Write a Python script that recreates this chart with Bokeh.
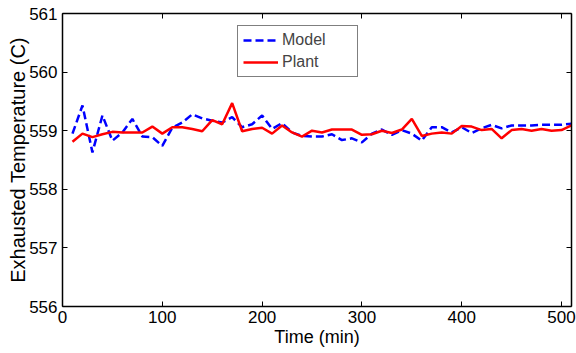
from bokeh.plotting import figure
from bokeh.models import LinearAxis, Range1d, FixedTicker, Legend, LegendItem, CustomJSTickFormatter
from bokeh.embed import file_html
from bokeh.resources import INLINE

time_min = [10, 20, 30, 40, 50, 60, 70, 80, 90, 100,
            110, 120, 130, 140, 150, 160, 170, 180, 190, 200,
            210, 220, 230, 240, 250, 260, 270, 280, 290, 300,
            310, 320, 330, 340, 350, 360, 370, 380, 390, 400,
            410, 420, 430, 440, 450, 460, 470, 480, 490, 500, 510]

model = [558.95, 559.43, 558.63, 559.26, 558.83, 558.97, 559.20, 558.90, 558.89, 558.74,
         559.05, 559.14, 559.28, 559.21, 559.17, 559.14, 559.23, 559.06, 559.11, 559.26,
         559.03, 559.13, 558.97, 558.91, 558.90, 558.90, 558.94, 558.84, 558.87, 558.80,
         558.95, 559.02, 558.93, 559.01, 558.95, 558.83, 559.06, 559.06, 558.97, 559.06,
         558.96, 559.04, 559.10, 559.04, 559.09, 559.09, 559.09, 559.10, 559.10, 559.10, 559.12]

plant = [558.81, 558.95, 558.89, 558.94, 558.98, 558.97, 558.97, 558.97, 559.07, 558.95,
         559.06, 559.06, 559.03, 558.99, 559.18, 559.11, 559.47, 558.99, 559.03, 559.05,
         558.95, 559.09, 558.97, 558.90, 559.00, 558.97, 559.02, 559.02, 559.02, 558.93,
         558.94, 559.00, 558.96, 559.02, 559.20, 558.91, 558.95, 558.97, 558.95, 559.08,
         559.07, 559.01, 559.03, 558.87, 559.01, 559.03, 559.00, 559.03, 559.00, 559.01, 559.09]

x_ticks = [0, 100, 200, 300, 400, 500]
y_ticks = [556, 557, 558, 559, 560, 561]

FONT = "Liberation Sans"

p = figure(width=576, height=353, output_backend="svg", toolbar_location=None,
           x_range=Range1d(0, 510), y_range=Range1d(556, 561),
           min_border_left=62, min_border_right=5, min_border_top=13, min_border_bottom=47)
p.outline_line_color = None
p.grid.visible = False
p.background_fill_color = "white"
p.border_fill_color = "white"

def style_axis(ax, labels=True):
    ax.axis_line_color = "black"
    ax.axis_line_width = 1.5
    ax.major_tick_in = 5
    ax.major_tick_out = 0
    ax.minor_tick_line_color = None
    ax.major_tick_line_color = "black"
    ax.major_tick_line_width = 1
    if labels:
        ax.major_label_text_font = FONT
        ax.major_label_text_font_size = "17px"
        ax.major_label_text_color = "black"
    else:
        ax.formatter = CustomJSTickFormatter(code="return ''")
        ax.major_label_text_font_size = "1px"
        ax.major_label_standoff = 0

p.xaxis.ticker = FixedTicker(ticks=x_ticks)
p.yaxis.ticker = FixedTicker(ticks=y_ticks)
style_axis(p.xaxis[0])
style_axis(p.yaxis[0])
p.xaxis.major_label_standoff = 4
p.yaxis.major_label_standoff = 5
p.xaxis.axis_label = "Time (min)"
p.yaxis.axis_label = "Exhausted Temperature (C)"
p.xaxis.axis_label_text_font = FONT
p.xaxis.axis_label_text_font_size = "18px"
p.xaxis.axis_label_text_font_style = "normal"
p.xaxis.axis_label_text_color = "black"
p.xaxis.axis_label_standoff = 1
p.yaxis.axis_label_text_font = FONT
p.yaxis.axis_label_text_font_size = "20px"
p.yaxis.axis_label_text_font_style = "normal"
p.yaxis.axis_label_text_color = "black"
p.yaxis.axis_label_standoff = -3

top = LinearAxis(ticker=FixedTicker(ticks=x_ticks))
right = LinearAxis(ticker=FixedTicker(ticks=y_ticks))
style_axis(top, labels=False)
style_axis(right, labels=False)
p.add_layout(top, "above")
p.add_layout(right, "right")

r_model = p.line(time_min, model, line_color="#0000ff", line_width=2.5, line_dash="8 4")
r_plant = p.line(time_min, plant, line_color="#ff0000", line_width=2.5)

legend = Legend(items=[LegendItem(label="Model", renderers=[r_model]),
                       LegendItem(label="Plant", renderers=[r_plant])],
                location=(175, 229))
legend.label_text_font = FONT
legend.label_text_font_size = "16px"
legend.glyph_width = 35
legend.glyph_height = 18
legend.label_height = 18
legend.label_width = 70
legend.label_standoff = 4
legend.spacing = 4
legend.padding = 5
legend.margin = 0
legend.border_line_color = "black"
legend.border_line_width = 1
legend.background_fill_alpha = 1
p.add_layout(legend, "center")

open("out.html", "w").write(file_html(p, INLINE))
